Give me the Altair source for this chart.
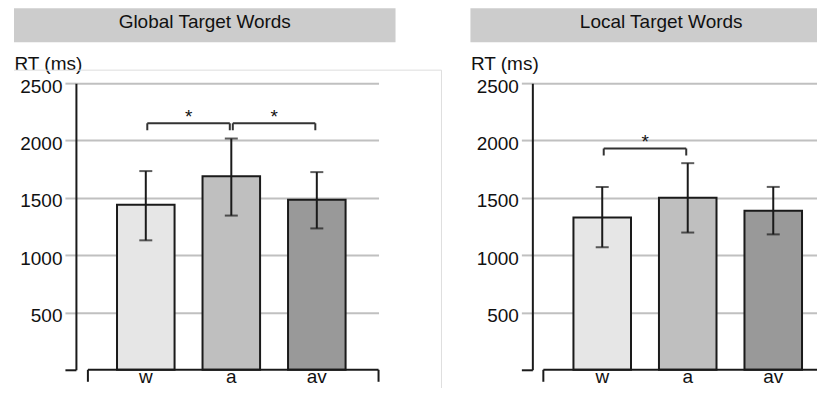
import altair as alt
import pandas as pd

# ---------------- data ----------------
conditions = ["w", "a", "av"]
bar_colors = ["#e6e6e6", "#bfbfbf", "#999999"]
panel_titles = ["Global Target Words", "Local Target Words"]

global_mean = [1440, 1688, 1483]
global_hi = [1733, 2017, 1724]
global_lo = [1129, 1345, 1233]

local_mean = [1328, 1500, 1388]
local_hi = [1595, 1802, 1595]
local_lo = [1069, 1197, 1181]

global_sig_from = ["w", "a"]
global_sig_to = ["a", "av"]
global_sig_y = [2150, 2150]

local_sig_from = ["w"]
local_sig_to = ["a"]
local_sig_y = [1930]

y_ticks = [0, 500, 1000, 1500, 2000, 2500]
y_max = 2500

# ---------------- style ----------------
FONT = "Liberation Sans"
FS = 19
INK = "#1a1a1a"
W, H = 303, 287


def make_panel(title, means, his, los, sig_from, sig_to, sig_y, frame):
    df = pd.DataFrame({"cond": conditions, "mean": means, "hi": his, "lo": los})
    sig = pd.DataFrame({"from": sig_from, "to": sig_to, "y": sig_y})
    hdr = pd.DataFrame({"title": [title]})
    one = pd.DataFrame({"k": [0]})

    x_scale = alt.Scale(domain=conditions, paddingInner=0.327,
                        paddingOuter=0.433, align=0.555)
    y_scale = alt.Scale(domain=[0, y_max], nice=False)

    zero_test = "datum.value === 0"
    y_axis = alt.Axis(
        values=y_ticks, format="d", title="RT (ms)", titleAngle=0,
        titleAlign="left", titleBaseline="alphabetic", titleX=-62, titleY=-14,
        titleFont=FONT, titleFontSize=FS, titleFontWeight="normal",
        titleColor="#111",
        labelFont=FONT, labelFontSize=FS, labelColor="#111",
        labelPadding=3, labelOffset=3,
        labelExpr="datum.value === 0 ? '' : datum.label",
        grid=True, gridColor="#c0c0c0", gridWidth=2,
        gridOpacity={"condition": {"test": zero_test, "value": 0}, "value": 1},
        tickSize=11, tickWidth=2,
        tickColor={"condition": {"test": zero_test, "value": INK}, "value": "#c0c0c0"},
        domain=True, domainColor=INK, domainWidth=2,
    )
    x_axis = alt.Axis(title=None, domain=False, ticks=False, labelAngle=0,
                      labelFont=FONT, labelFontSize=FS, labelColor="#111",
                      labelBaseline="alphabetic", labelPadding=13, grid=False)

    header_box = alt.Chart(hdr).mark_rect(fill="#cccccc").encode(
        x=alt.value(-62), x2=alt.value(320), y=alt.value(-75), y2=alt.value(-41))
    header_txt = alt.Chart(hdr).mark_text(
        font=FONT, fontSize=FS, color="#111", align="center",
        baseline="alphabetic").encode(
        x=alt.value(129), y=alt.value(-55), text="title:N")

    bars = alt.Chart(df).mark_bar(stroke=INK, strokeWidth=2).encode(
        x=alt.X("cond:N", scale=x_scale, axis=x_axis, sort=conditions),
        y=alt.Y("mean:Q", scale=y_scale, axis=y_axis),
        fill=alt.Fill("cond:N", scale=alt.Scale(domain=conditions, range=bar_colors),
                      legend=None),
    )
    err = alt.Chart(df).mark_rule(color=INK, strokeWidth=2).encode(
        x=alt.X("cond:N", scale=x_scale, bandPosition=0.5),
        y=alt.Y("lo:Q", scale=y_scale), y2="hi:Q")
    cap_hi = alt.Chart(df).mark_tick(color=INK, size=13, thickness=2).encode(
        x=alt.X("cond:N", scale=x_scale), y=alt.Y("hi:Q", scale=y_scale))
    cap_lo = alt.Chart(df).mark_tick(color=INK, size=13, thickness=2).encode(
        x=alt.X("cond:N", scale=x_scale), y=alt.Y("lo:Q", scale=y_scale))

    br_h = alt.Chart(sig).mark_rule(color="#333", strokeWidth=2,
                                    xOffset=1.5, x2Offset=-1.5).encode(
        x=alt.X("from:N", scale=x_scale, bandPosition=0.5),
        x2=alt.X2("to:N", bandPosition=0.5),
        y=alt.Y("y:Q", scale=y_scale))
    br_l = alt.Chart(sig).mark_rule(color="#333", strokeWidth=2,
                                    xOffset=1.5, y2Offset=7).encode(
        x=alt.X("from:N", scale=x_scale, bandPosition=0.5),
        y=alt.Y("y:Q", scale=y_scale), y2="y:Q")
    br_r = alt.Chart(sig).mark_rule(color="#333", strokeWidth=2,
                                    xOffset=-1.5, y2Offset=7).encode(
        x=alt.X("to:N", scale=x_scale, bandPosition=0.5),
        y=alt.Y("y:Q", scale=y_scale), y2="y:Q")
    stars = alt.Chart(sig).mark_text(text="*", font=FONT, fontSize=FS,
                                     color="#111", baseline="alphabetic",
                                     xOffset=43).encode(
        x=alt.X("from:N", scale=x_scale, bandPosition=0.5),
        y=alt.Y("y:Q", scale=y_scale))

    xa_start = 12 if frame else 11
    xaxis_line = alt.Chart(one).mark_rule(color=INK, strokeWidth=2).encode(
        x=alt.value(xa_start), x2=alt.value(W), y=alt.value(H))
    xaxis_l = alt.Chart(one).mark_rule(color=INK, strokeWidth=2).encode(
        x=alt.value(xa_start), y=alt.value(H), y2=alt.value(H + 12))
    xaxis_r = alt.Chart(one).mark_rule(color=INK, strokeWidth=2).encode(
        x=alt.value(W), y=alt.value(H), y2=alt.value(H + 12))

    layers = [header_box, header_txt, bars, err, cap_hi, cap_lo,
              br_h, br_l, br_r, stars, xaxis_line, xaxis_l, xaxis_r]
    if frame:
        fr_h = alt.Chart(one).mark_rule(color="#dedede", strokeWidth=1).encode(
            x=alt.value(-62), x2=alt.value(366), y=alt.value(-13))
        fr_v = alt.Chart(one).mark_rule(color="#dedede", strokeWidth=1).encode(
            x=alt.value(366), y=alt.value(-13), y2=alt.value(313))
        layers = [fr_h, fr_v] + layers

    return alt.layer(*layers).properties(width=W, height=H)


left = make_panel(panel_titles[0], global_mean, global_hi, global_lo,
                  global_sig_from, global_sig_to, global_sig_y, True)
right = make_panel(panel_titles[1], local_mean, local_hi, local_lo,
                   local_sig_from, local_sig_to, local_sig_y, False)

chart = alt.hconcat(left, right, spacing=28).properties(
    padding={"left": 5, "top": 0, "right": -35, "bottom": -9},
    background="white",
).configure_view(stroke=None).configure_concat(spacing=28)

chart.save("out.html", embed_options={"renderer": "svg", "actions": False})
